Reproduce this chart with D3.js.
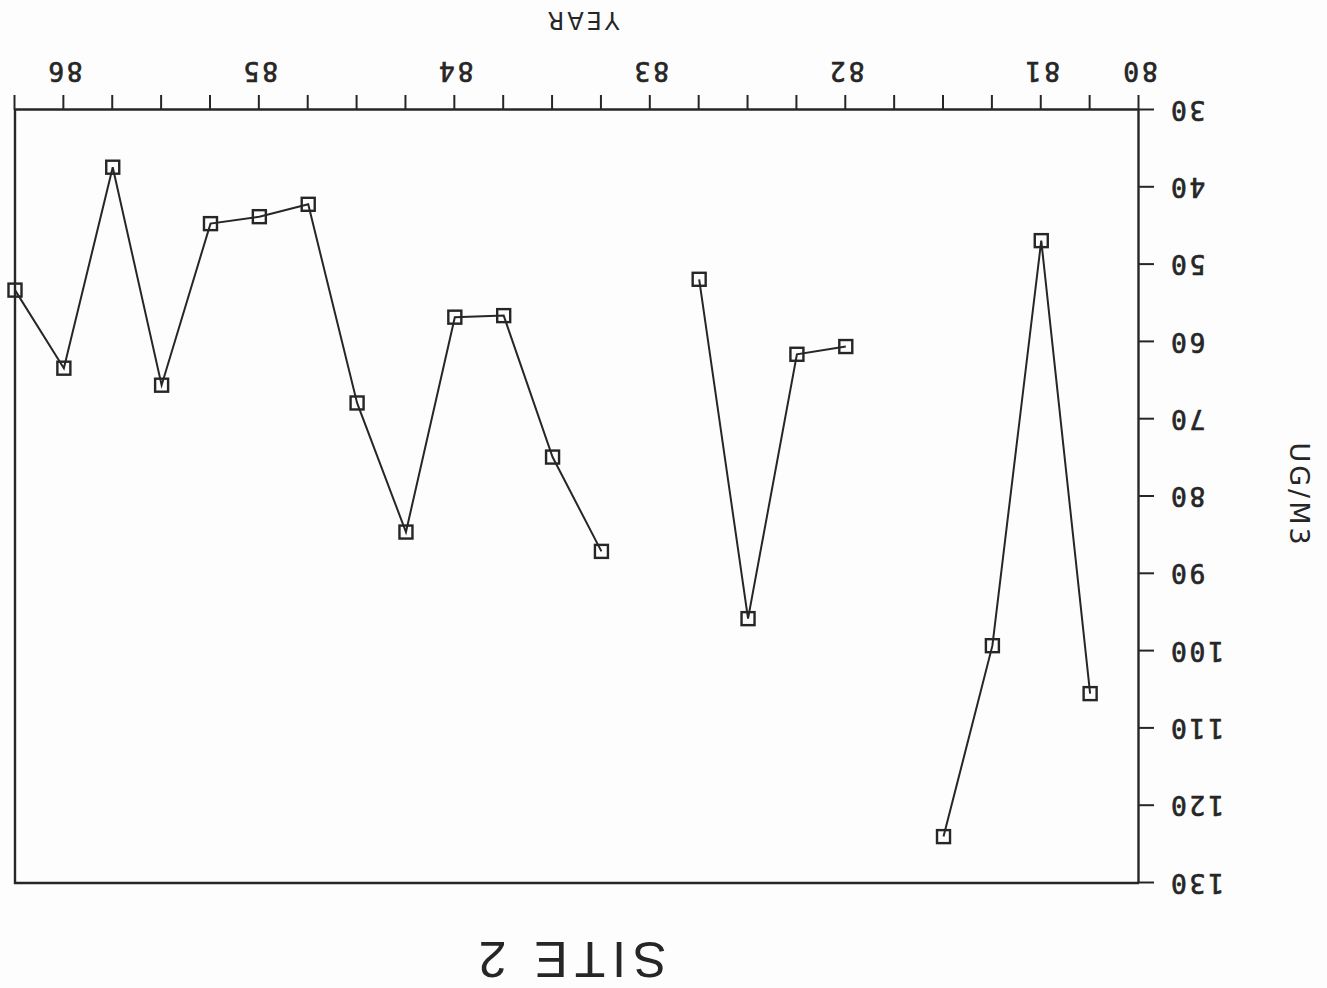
<!DOCTYPE html>
<html>
<head>
<meta charset="utf-8">
<script src="https://cdn.jsdelivr.net/npm/d3@7"></script>
<style>
  html, body { margin: 0; padding: 0; background: #fdfdfd; }
  svg { display: block; }
</style>
</head>
<body>
<svg id="chart" width="1327" height="988"></svg>
<script>
// Quarterly sampling times (decimal year, 80 = 1980) and measured concentrations.
// null marks a quarter with no sample, which breaks the line.
const quarters = [80.75, 81, 81.25, 81.5, 81.75, 82, 82.25, 82.5, 82.75, 83,
                  83.25, 83.5, 83.75, 84, 84.25, 84.5, 84.75, 85, 85.25, 85.5,
                  85.75, 86, 86.25];
const concentration = [105.5, 46.9, 99.3, 124.0, null, 60.6, 61.6, 95.8, 51.9, null,
                       87.1, 74.9, 56.6, 56.8, 84.6, 67.9, 42.2, 43.8, 44.7, 65.6,
                       37.4, 63.4, 53.3];

// Axis labelling
const yearTickPositions = [80.5, 81, 82, 83, 84, 85, 86];
const yearTickLabels = ["80", "81", "82", "83", "84", "85", "86"];
const concTicks = [30, 40, 50, 60, 70, 80, 90, 100, 110, 120, 130];

const titleText = "SITE 2";
const xTitle = "YEAR";
const yTitle = "UG/M3";

const W = 1327, H = 988;
const ink = "#262626";
const box = { left: 188, right: 1312, top: 105, bottom: 878 };

const svg = d3.select("#chart");
// The whole sheet is plotted upside down.
const sheet = svg.append("g").attr("transform", `rotate(180 ${W / 2} ${H / 2})`);

const x = d3.scaleLinear().domain([80.5, 86.25]).range([box.left, box.right]);
const y = d3.scaleLinear().domain([30, 130]).range([box.bottom, box.top]);

// Frame: right and top sides
sheet.append("path")
  .attr("d", `M${box.left},${box.top}H${box.right}V${box.bottom}`)
  .attr("fill", "none").attr("stroke", ink).attr("stroke-width", 2.4);

// X axis with quarter-year ticks
const quarterTicks = d3.range(80.5, 86.26, 0.25);
const xAxis = sheet.append("g")
  .attr("transform", `translate(0,${box.bottom})`)
  .call(d3.axisBottom(x).tickValues(quarterTicks).tickSize(15).tickSizeOuter(0).tickFormat(""));
xAxis.select(".domain").attr("stroke", ink).attr("stroke-width", 2.4);
xAxis.selectAll(".tick line").attr("stroke", ink).attr("stroke-width", 2);

const tickLabelStyle = sel => sel
  .attr("font-family", "DejaVu Sans Mono")
  .attr("font-size", 26)
  .attr("letter-spacing", 3)
  .attr("fill", ink)
  .attr("stroke", ink)
  .attr("stroke-width", 0.7);

sheet.append("g").selectAll("text")
  .data(yearTickPositions)
  .join("text")
  .attr("x", d => x(d))
  .attr("y", box.bottom + 48)
  .attr("text-anchor", "middle")
  .call(tickLabelStyle)
  .text((d, i) => yearTickLabels[i]);

// Y axis
const yAxis = sheet.append("g")
  .attr("transform", `translate(${box.left},0)`)
  .call(d3.axisLeft(y).tickValues(concTicks).tickSize(15).tickSizeOuter(0).tickFormat(""));
yAxis.select(".domain").attr("stroke", ink).attr("stroke-width", 2.4);
yAxis.selectAll(".tick line").attr("stroke", ink).attr("stroke-width", 2);

sheet.append("g").selectAll("text")
  .data(concTicks)
  .join("text")
  .attr("x", box.left - 29)
  .attr("y", d => y(d))
  .attr("dy", "0.36em")
  .attr("text-anchor", "end")
  .call(tickLabelStyle)
  .text(d => d);

// Axis titles
sheet.append("text")
  .attr("x", 745).attr("y", 976)
  .attr("text-anchor", "middle")
  .attr("font-family", "DejaVu Sans")
  .attr("font-size", 24)
  .attr("letter-spacing", 3)
  .attr("fill", ink)
  .text(xTitle);

sheet.append("text")
  .attr("transform", `translate(37,493) rotate(-90)`)
  .attr("text-anchor", "middle")
  .attr("font-family", "DejaVu Sans")
  .attr("font-size", 27)
  .attr("letter-spacing", 3)
  .attr("fill", ink)
  .text(yTitle);

// Title
sheet.append("text")
  .attr("x", 758).attr("y", 46)
  .attr("text-anchor", "middle")
  .attr("font-family", "Liberation Sans")
  .attr("font-size", 50)
  .attr("letter-spacing", 7)
  .attr("fill", ink)
  .text(titleText);

// Data series
const points = quarters.map((q, i) => ({ q, v: concentration[i] }));
const line = d3.line()
  .defined(d => d.v !== null)
  .x(d => x(d.q))
  .y(d => y(d.v));

sheet.append("path")
  .datum(points)
  .attr("d", line)
  .attr("fill", "none")
  .attr("stroke", ink)
  .attr("stroke-width", 2);

const s = 13;
sheet.append("g").selectAll("rect")
  .data(points.filter(d => d.v !== null))
  .join("rect")
  .attr("x", d => x(d.q) - s / 2)
  .attr("y", d => y(d.v) - s / 2)
  .attr("width", s)
  .attr("height", s)
  .attr("fill", "none")
  .attr("stroke", ink)
  .attr("stroke-width", 2.4);
</script>
</body>
</html>
